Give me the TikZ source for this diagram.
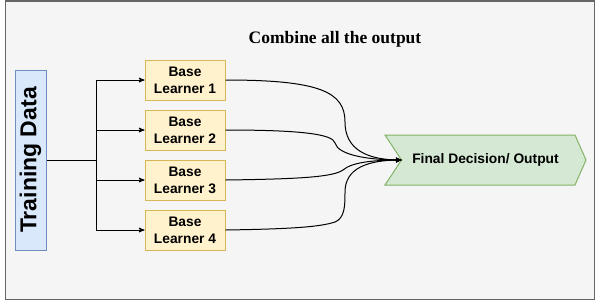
\documentclass[tikz,border=0pt]{standalone}
\usepackage{fontspec}
\setmainfont{Liberation Sans}
\newfontfamily\titre{Liberation Serif}
\usepackage{tikz}
\usetikzlibrary{arrows}
\usepackage{xcolor}
\definecolor{fond}{HTML}{F5F5F5}
\definecolor{cadre}{HTML}{666666}
\definecolor{bleuF}{HTML}{DAE8FC}
\definecolor{bleuB}{HTML}{6C8EBF}
\definecolor{jauneF}{HTML}{FFF2CC}
\definecolor{jauneB}{HTML}{D6B656}
\definecolor{vertF}{HTML}{D5E8D4}
\definecolor{vertB}{HTML}{82B366}

\begin{document}
\begin{tikzpicture}[x=1pt, y=-1pt, line width=1pt,
    donnees/.style={draw=bleuB, fill=bleuF, minimum width=31pt, minimum height=180pt, inner sep=0pt, font=\bfseries\fontsize{23}{27}\selectfont},
    apprenant/.style={draw=jauneB, fill=jauneF, minimum width=80pt, minimum height=40pt, inner sep=0pt, align=center, font=\bfseries\fontsize{13.8}{17}\selectfont},
    fleche/.style={->, >=stealth'}]
    \useasboundingbox (0,0) rectangle (596,301);
    % fond gris
    \filldraw[fill=fond, draw=cadre, line width=1.5pt] (5.5,1) rectangle (594.5,299.5);
    % titre
    \node[anchor=base, font=\titre\bfseries\fontsize{17.5}{21}\selectfont] (titre) at (335,43) {Combine all the output};
    % données d'entrée
    \node[donnees] (data) at (30.5,160) {\rotatebox{90}{Training Data}};
    % apprenants
    \node[apprenant] (app1) at (185,80) {Base\\Learner 1};
    \node[apprenant] (app2) at (185,130) {Base\\Learner 2};
    \node[apprenant] (app3) at (185,180) {Base\\Learner 3};
    \node[apprenant] (app4) at (185,230) {Base\\Learner 4};
    % décision finale
    \filldraw[fill=vertF, draw=vertB] (385,135) -- (575,135) -- (586,160) -- (575,185) -- (385,185) -- (401.5,160) -- cycle;
    \node[font=\bfseries\fontsize{13.8}{17}\selectfont] (decision) at (485.5,160) {Final Decision/ Output};
    \coordinate (entree) at (401.5,160);
    %embranchement
    \coordinate (noeud) at (96,160);
    \draw (data.east) -- (noeud);
    \foreach \i in {1,...,4}
        \draw[fleche] (noeud) |- (app\i.west);
    %courbes vers la décision
    \draw[fleche] (app1.east) .. controls (320,80) and (345,92) .. (345,122)
        .. controls (345,150) and (368,160) .. (entree);
    \draw[fleche] (app2.east) .. controls (300,130) and (333,134) .. (335,143)
        .. controls (338,155) and (368,160) .. (entree);
    \draw[fleche] (app3.east) .. controls (300,179) and (333,177) .. (343,170)
        .. controls (352,162) and (375,160) .. (entree);
    \draw[fleche] (app4.east) .. controls (290,229) and (320,227) .. (335,222)
        .. controls (345,218) and (345,205) .. (345,192)
        .. controls (345,168) and (368,160) .. (entree);
\end{tikzpicture}
\end{document}
